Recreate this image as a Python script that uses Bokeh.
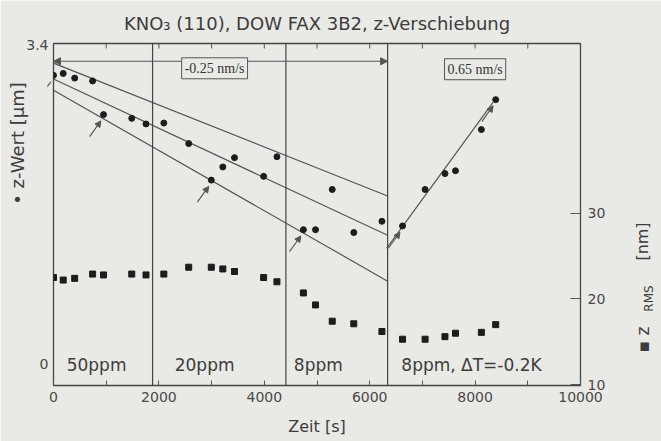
import math
from bokeh.plotting import figure
from bokeh.models import (Range1d, LinearAxis, FixedTicker, Span, Label, Arrow,
                          NormalHead, ColumnDataSource)
from bokeh.embed import file_html
from bokeh.resources import INLINE
from bokeh.core.properties import value

# ---------------- data ----------------
time_s = [0, 184, 402, 742, 949, 1485, 1755, 2094, 2566, 2994, 3213, 3434, 3987,
          4240, 4742, 4972, 5289, 5698, 6232, 6623, 7051, 7428, 7628, 8119, 8391]
z_wert_um = [3.08, 3.10, 3.05, 3.02, 2.66, 2.62, 2.56, 2.57, 2.35, 1.96, 2.10, 2.20, 2.00,
             2.21, 1.43, 1.43, 1.86, 1.40, 1.52, 1.47, 1.86, 2.03, 2.06, 2.50, 2.82]
z_rms_nm = [22.5, 22.2, 22.4, 22.9, 22.8, 22.9, 22.8, 22.9, 23.7, 23.7, 23.5, 23.2, 22.5,
            22.0, 20.7, 19.3, 17.4, 17.1, 16.2, 15.3, 15.3, 15.6, 16.0, 16.1, 17.0]

phase_bounds = [0, 1880, 4410, 6340, 10000]
phase_names = ["50ppm", "20ppm", "8ppm", "8ppm, \u0394T=-0.2K"]
phase_label_t = [250, 2300, 4560, 6600]

neg_fit_t = [0, 6340]
neg_fit_start = [3.21, 3.04, 2.92]
neg_fit_end = [1.79, 1.37, 0.88]
pos_fit_t = [6321, 8340]
pos_fit_z = [1.23, 2.79]

rate_texts = ["-0.25 nm/s", "0.65 nm/s"]
rate_t = [3057, 8000]
rate_z = [3.155, 3.145]
span_arrow_t = [0, 6340]
span_arrow_z = 3.23

marked_idx = [0, 4, 9, 14, 19, 24]

x_ticks = [0, 2000, 4000, 6000, 8000, 10000]
x_minor = [1000, 3000, 5000, 7000, 9000]
left_ticks = [0, 3.4]
right_ticks = [10, 20, 30]

# ---------------- styling ----------------
BG = "#e9e9e6"
INK = "#3c3c3c"
LINE = "#555555"
FONT = "DejaVu Sans"

X0, X1 = 0, 10000
Y0, Y1 = -0.235, 3.42
R0, R1 = 9.9, 49.8
FL, FR, FT, FB = 53, 583, 43, 385
TICK_LEN_Z = 5 / (FB - FT) * (Y1 - Y0)   # 5 px expressed in z units

p = figure(width=661, height=441, output_backend="svg", toolbar_location=None,
           x_range=Range1d(X0, X1), y_range=Range1d(Y0, Y1),
           min_border_left=FL, min_border_right=661 - FR, min_border_top=FT,
           min_border_bottom=441 - FB,
           background_fill_color=BG, border_fill_color=BG)
p.extra_y_ranges = {"rms": Range1d(R0, R1)}
p.grid.visible = False
p.outline_line_color = "#444444"
p.outline_line_width = 1.3

p.title.text = "KNO\u2083 (110), DOW FAX 3B2, z-Verschiebung"
p.title.text_font = FONT
p.title.text_font_size = "18px"
p.title.text_font_style = "normal"
p.title.text_color = INK
p.title.align = "center"
p.title.standoff = 20

xa = p.xaxis[0]
xa.ticker = FixedTicker(ticks=x_ticks, minor_ticks=x_minor)
xa.axis_line_color = None
xa.major_tick_in = 5
xa.major_tick_out = 0
xa.minor_tick_in = 5
xa.minor_tick_out = 0
xa.major_tick_line_color = LINE
xa.minor_tick_line_color = LINE
xa.major_label_text_font = FONT
xa.major_label_text_font_size = "14px"
xa.major_label_text_color = "#4a4a4a"
xa.major_label_standoff = 6
xa.axis_label = "Zeit [s]"
xa.axis_label_text_font = FONT
xa.axis_label_text_font_size = "16px"
xa.axis_label_text_font_style = "normal"
xa.axis_label_text_color = INK
xa.axis_label_standoff = 12

ya = p.yaxis[0]
ya.ticker = FixedTicker(ticks=left_ticks)
ya.axis_line_color = None
ya.major_tick_in = 0
ya.major_tick_out = 0
ya.minor_tick_in = 0
ya.minor_tick_out = 0
ya.major_tick_line_color = None
ya.minor_tick_line_color = None
ya.major_label_overrides = {0: "0", 3.4: "3.4"}
ya.major_label_text_font = FONT
ya.major_label_text_font_size = "14px"
ya.major_label_text_color = "#4a4a4a"
ya.major_label_standoff = 5
ya.axis_label_standoff = 0

ra = LinearAxis(y_range_name="rms", ticker=FixedTicker(ticks=right_ticks))
ra.axis_line_color = None
ra.major_tick_in = 10
ra.major_tick_out = 0
ra.minor_tick_in = 0
ra.minor_tick_out = 0
ra.minor_tick_line_color = None
ra.major_tick_line_color = LINE
ra.major_label_text_font = FONT
ra.major_label_text_font_size = "14px"
ra.major_label_text_color = "#4a4a4a"
ra.major_label_standoff = 7
ra.axis_label_standoff = 0
p.add_layout(ra, "right")

# top-edge inward ticks
top_ticks = x_ticks[1:-1] + x_minor
p.segment(x0=top_ticks, x1=top_ticks, y0=[Y1] * len(top_ticks),
          y1=[Y1 - TICK_LEN_Z] * len(top_ticks), line_color=LINE, line_width=1)

for b in phase_bounds[1:-1]:
    p.add_layout(Span(location=b, dimension="height", line_color="#444444", line_width=1.2))

for zs, ze in zip(neg_fit_start, neg_fit_end):
    p.line(neg_fit_t, [zs, ze], line_color=LINE, line_width=1.2)
p.line(pos_fit_t, pos_fit_z, line_color=LINE, line_width=1.2)

src = ColumnDataSource(dict(t=time_s, z=z_wert_um, r=z_rms_nm))
p.scatter("t", "z", source=src, marker="circle", size=6, fill_color="#1c1c1c", line_color="#1c1c1c")
p.scatter("t", "r", source=src, marker="square", size=6, fill_color="#1c1c1c", line_color="#1c1c1c",
          y_range_name="rms")

HEAD_DT, HEAD_DZ = -49, -0.067
TAIL_DT, TAIL_DZ = -264, -0.235
for i in marked_idx:
    p.add_layout(Arrow(end=NormalHead(size=6, fill_color=LINE, line_color=LINE),
                       x_start=time_s[i] + TAIL_DT, y_start=z_wert_um[i] + TAIL_DZ,
                       x_end=time_s[i] + HEAD_DT, y_end=z_wert_um[i] + HEAD_DZ,
                       line_color=LINE, line_width=1.1))

p.add_layout(Arrow(start=NormalHead(size=7, fill_color=LINE, line_color=LINE),
                   end=NormalHead(size=7, fill_color=LINE, line_color=LINE),
                   x_start=span_arrow_t[0], y_start=span_arrow_z,
                   x_end=span_arrow_t[1], y_end=span_arrow_z,
                   line_color=LINE, line_width=1.1))

for txt, t, z in zip(rate_texts, rate_t, rate_z):
    p.add_layout(Label(x=t, y=z, text=txt, text_align="center", text_baseline="middle",
                       text_font="Liberation Serif", text_font_size="14px", text_color="#333333",
                       border_line_color="#555555", border_line_width=1,
                       background_fill_color=BG, padding=3))

for name, t in zip(phase_names, phase_label_t):
    p.add_layout(Label(x=t, y=-0.02, text=name, text_align="left", text_baseline="middle",
                       text_font=FONT, text_font_size="17px", text_color=INK))

# --- outside-frame axis titles, placed in side panels (canvas pixel units) ---
def add_side_lbl(side, xc, yc, txt, size, color=INK):
    p.add_layout(Label(x=xc, y=yc, x_units="canvas", y_units="canvas", text=txt,
                       angle=math.pi / 2, text_align="center", text_baseline="middle",
                       text_font=FONT, text_font_size=size, text_color=color), side)

add_side_lbl("left", 17, 143, "\u2022 z-Wert [\u03bcm]", "18px")
add_side_lbl("right", 642, 241, "[nm]", "16px")
add_side_lbl("right", 642, 339, "\u25aa z", "17px")
add_side_lbl("right", 648, 298, "RMS", "12px")

open("out.html", "w").write(file_html(p, INLINE))
